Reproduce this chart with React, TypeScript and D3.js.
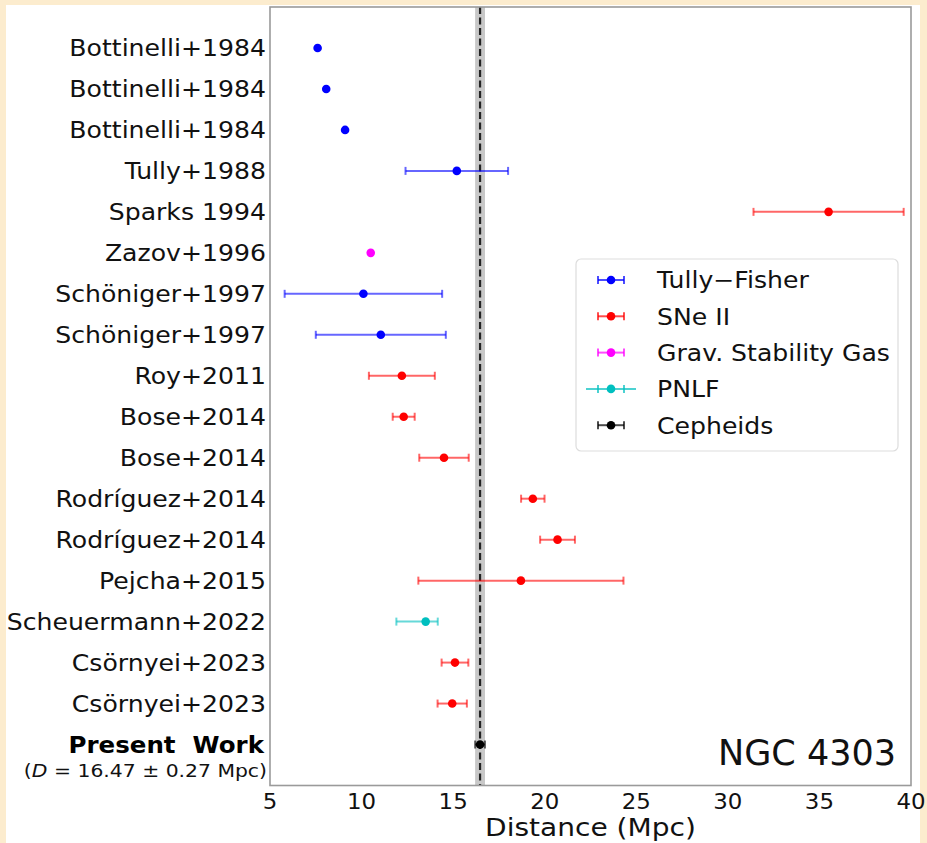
import React from "react";
import * as d3 from "d3";

const labels = [
  "Bottinelli+1984",
  "Bottinelli+1984",
  "Bottinelli+1984",
  "Tully+1988",
  "Sparks 1994",
  "Zazov+1996",
  "Schöniger+1997",
  "Schöniger+1997",
  "Roy+2011",
  "Bose+2014",
  "Bose+2014",
  "Rodríguez+2014",
  "Rodríguez+2014",
  "Pejcha+2015",
  "Scheuermann+2022",
  "Csörnyei+2023",
  "Csörnyei+2023",
  "Present Work",
];
const methods = ["TF", "TF", "TF", "TF", "SN", "GSG", "TF", "TF", "SN", "SN", "SN", "SN", "SN", "SN", "PNLF", "SN", "SN", "CEPH"];
const distances = [7.6, 8.07, 9.1, 15.2, 35.5, 10.5, 10.1, 11.05, 12.2, 12.3, 14.5, 19.35, 20.7, 18.7, 13.5, 15.1, 14.95, 16.47];
const errLow = [0, 0, 0, 2.8, 4.1, 0, 4.3, 3.55, 1.8, 0.6, 1.35, 0.64, 0.95, 5.6, 1.6, 0.73, 0.8, 0.27];
const errHigh = [0, 0, 0, 2.8, 4.1, 0, 4.3, 3.55, 1.8, 0.6, 1.35, 0.64, 0.95, 5.6, 0.66, 0.73, 0.8, 0.27];

const legendKeys = ["TF", "SN", "GSG", "PNLF", "CEPH"];
const legendNames = ["Tully\u2212Fisher", "SNe II", "Grav. Stability Gas", "PNLF", "Cepheids"];
const methodColors = ["#0000ff", "#ff0000", "#ff00ff", "#00bfbf", "#000000"];

const xTicks = [5, 10, 15, 20, 25, 30, 35, 40];
const refDistance = 16.47;
const refError = 0.27;

const FONT = "'DejaVu Sans', sans-serif";

export default function App() {
  const W = 927;
  const H = 843;
  const left = 270, right = 911, top = 7, bottom = 785.5;
  const x = d3.scaleLinear().domain([5, 40]).range([left, right]);
  const y = d3.scaleLinear().domain([-1, labels.length]).range([top, bottom]);
  const color = d3.scaleOrdinal<string, string>().domain(legendKeys).range(methodColors);

  const cap = 4;
  const sx = 1.07;
  const lgX = 576, lgY = 259, lgW = 322, lgH = 192;
  const lgRow = (i: number) => lgY + 21 + i * 36.3;

  return (
    <svg width={W} height={H} style={{ position: "absolute", left: 0, top: 0 }} fontFamily={FONT}>
      <rect x={0} y={0} width={W} height={H} fill="#fcecce" />
      <rect x={6} y={5} width={914} height={H - 5} fill="#ffffff" />

      {/* reference band */}
      <rect
        x={x(refDistance - refError)}
        y={top}
        width={x(refDistance + refError) - x(refDistance - refError)}
        height={bottom - top}
        fill="#c8c8c8"
      />
      <line
        x1={x(refDistance)}
        x2={x(refDistance)}
        y1={top}
        y2={bottom}
        stroke="#222"
        strokeWidth={2.2}
        strokeDasharray="7,3.5"
      />

      {/* data */}
      {labels.map((lab, i) => {
        const c = color(methods[i]);
        const cy = y(i);
        const lo = distances[i] - errLow[i];
        const hi = distances[i] + errHigh[i];
        const hasErr = errLow[i] > 0 || errHigh[i] > 0;
        return (
          <g key={i}>
            {hasErr && (
              <g stroke={c} strokeOpacity={0.6} strokeWidth={2}>
                <line x1={x(lo)} x2={x(hi)} y1={cy} y2={cy} />
                <line x1={x(lo)} x2={x(lo)} y1={cy - cap} y2={cy + cap} />
                <line x1={x(hi)} x2={x(hi)} y1={cy - cap} y2={cy + cap} />
              </g>
            )}
            <circle cx={x(distances[i])} cy={cy} r={4.3} fill={c} />
          </g>
        );
      })}

      {/* frame */}
      <rect x={left} y={top} width={right - left} height={bottom - top} fill="none" stroke="#9a9a9a" strokeWidth={1.6} />

      {/* y labels */}
      {labels.map((lab, i) =>
        i < labels.length - 1 ? (
          <text
            key={i}
            transform={`translate(266,${y(i)}) scale(${sx},1)`}
            dy="0.36em"
            textAnchor="end"
            fontSize={23.5}
            fill="#111"
          >
            {lab}
          </text>
        ) : null
      )}
      <text
        transform={`translate(264,${y(labels.length - 1) + 8}) scale(1.09,1)`}
        textAnchor="end"
        fontSize={22.5}
        fontWeight="bold"
        fill="#000"
        style={{ whiteSpace: "pre" }}
      >
        {"Present  Work"}
      </text>
      <text
        transform={`translate(267,${y(labels.length - 1) + 32}) scale(1.1,1)`}
        textAnchor="end"
        fontSize={18.5}
        fill="#111"
        style={{ whiteSpace: "pre" }}
      >
        {"("}
        <tspan fontStyle="italic">D</tspan>
        {" = 16.47 \u00b1 0.27 Mpc)"}
      </text>

      {/* x ticks */}
      {xTicks.map((t) => (
        <text key={t} transform={`translate(${x(t)},809) scale(1.04,1)`} textAnchor="middle" fontSize={22} fill="#111">
          {t}
        </text>
      ))}
      <text transform={`translate(${(left + right) / 2},836) scale(1.1,1)`} textAnchor="middle" fontSize={25.5} fill="#111">
        Distance (Mpc)
      </text>

      <text x={896} y={765} textAnchor="end" fontSize={35} fill="#111">
        NGC 4303
      </text>

      {/* legend */}
      <rect x={lgX} y={lgY} width={lgW} height={lgH} rx={5} fill="#ffffff" fillOpacity={0.85} stroke="#dddddd" strokeWidth={1.2} />
      {legendKeys.map((k, i) => {
        const c = color(k);
        const ly = lgRow(i);
        const mx = 611;
        return (
          <g key={k}>
            <g stroke={c} strokeOpacity={0.7} strokeWidth={2}>
              <line x1={k === "PNLF" ? 586 : 598} x2={k === "PNLF" ? 636 : 624} y1={ly} y2={ly} />
              <line x1={598} x2={598} y1={ly - cap} y2={ly + cap} />
              <line x1={624} x2={624} y1={ly - cap} y2={ly + cap} />
            </g>
            <circle cx={mx} cy={ly} r={4.3} fill={c} />
            <text transform={`translate(657,${ly}) scale(${sx},1)`} dy="0.36em" fontSize={23.5} fill="#111">
              {legendNames[i]}
            </text>
          </g>
        );
      })}
    </svg>
  );
}
